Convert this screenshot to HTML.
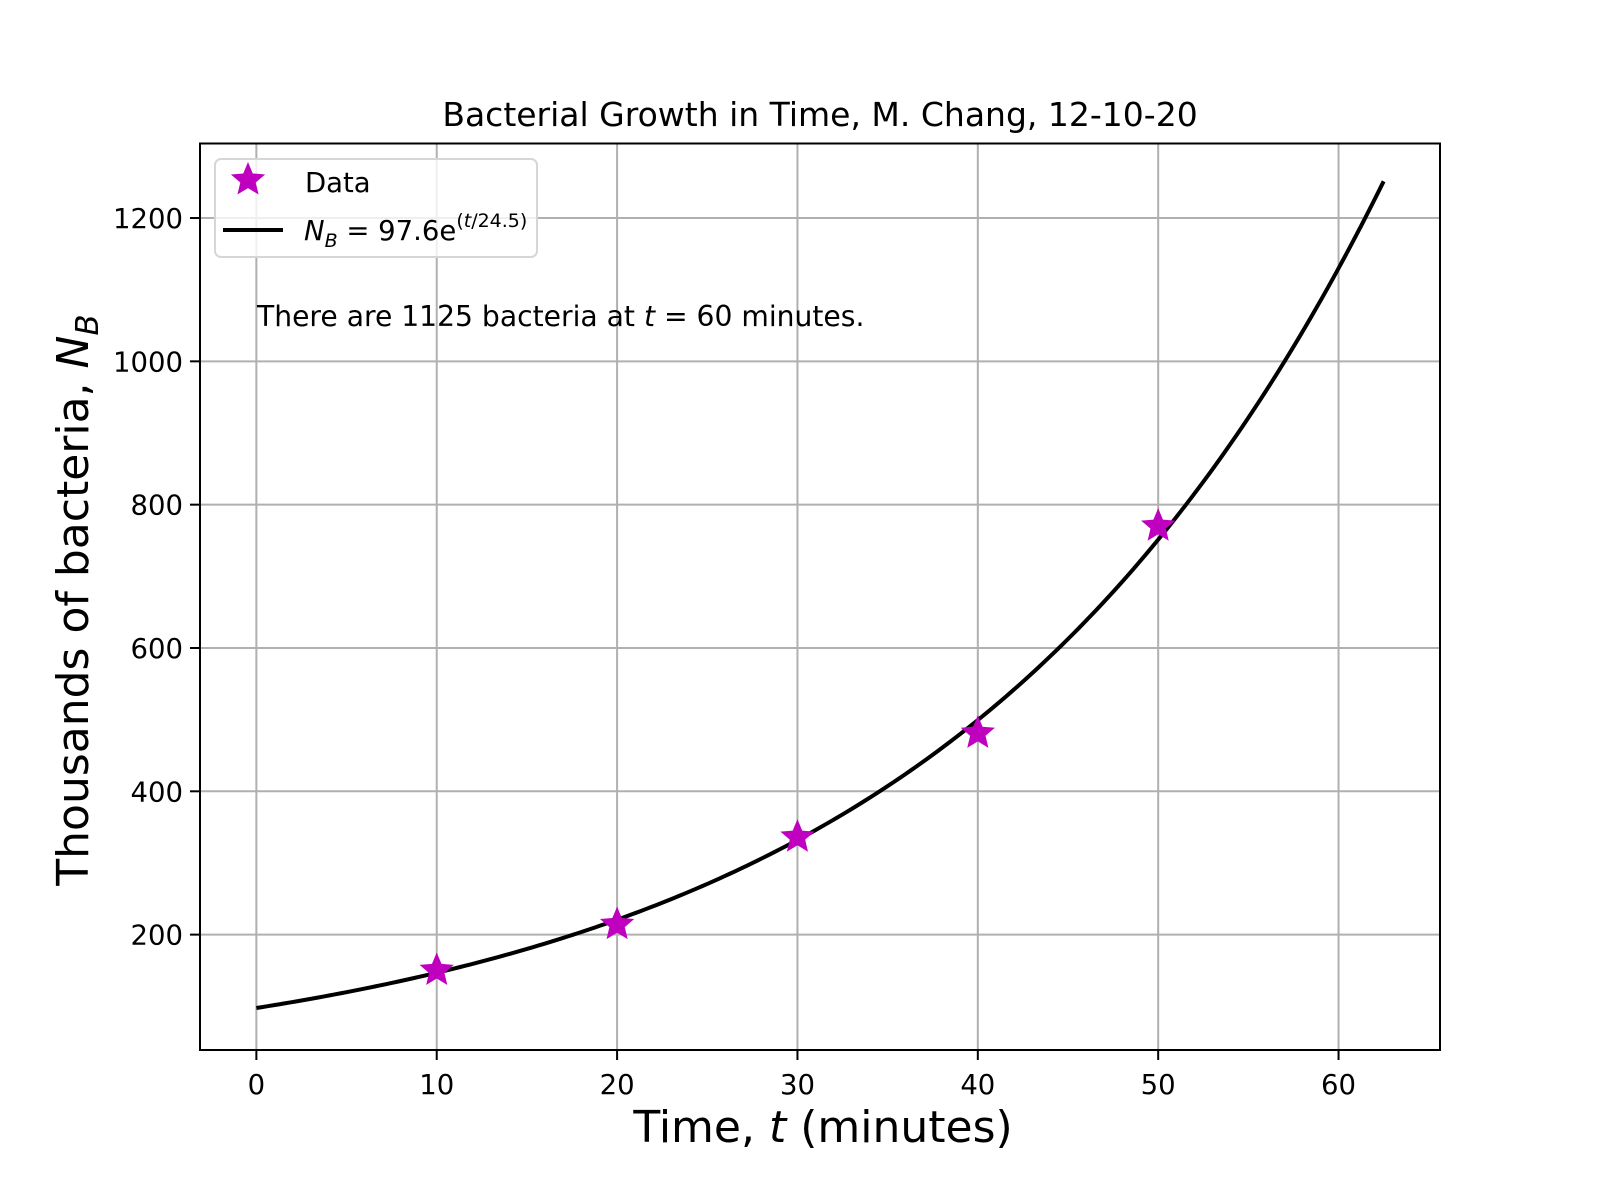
<!DOCTYPE html>
<html><head><meta charset="utf-8"><style>
html,body{margin:0;padding:0;background:#fff}
svg{display:block;font-family:"DejaVu Sans","Liberation Sans",sans-serif}
</style></head><body>
<svg id="chart" width="1600" height="1200" viewBox="0 0 1600 1200" xmlns="http://www.w3.org/2000/svg">
<rect width="1600" height="1200" fill="#fff"/>
<g id="grid"></g>
<g id="curve"></g>
<g id="points"></g>
<rect x="200" y="143.5" width="1240" height="906.5" fill="none" stroke="#000" stroke-width="2"/>
<g id="ticks"></g>
<text x="820" y="126" font-size="33" text-anchor="middle">Bacterial Growth in Time, M. Chang, 12-10-20</text>
<text x="823" y="1142" font-size="44" text-anchor="middle">Time, <tspan font-style="italic">t</tspan> (minutes)</text>
<text transform="translate(88,600) rotate(-90)" font-size="44" text-anchor="middle">Thousands of bacteria, <tspan font-style="italic">N</tspan><tspan font-style="italic" font-size="31" dy="10">B</tspan></text>
<text x="257" y="326" font-size="28.2">There are 1125 bacteria at <tspan font-style="italic">t</tspan> = 60 minutes.</text>
<g>
<rect x="215" y="159" width="322" height="98" rx="6" fill="#fff" fill-opacity="0.8" stroke="#d6d6d6" stroke-width="2"/>
<g id="legstar"></g>
<text x="305" y="192" font-size="27.5">Data</text>
<line x1="223" y1="230" x2="283" y2="230" stroke="#000" stroke-width="4"/>
<text x="304" y="240" font-size="27.5"><tspan font-style="italic">N</tspan><tspan font-style="italic" font-size="19" dy="7">B</tspan><tspan dy="-7"> = 97.6e</tspan><tspan font-size="19" dy="-13">(<tspan font-style="italic">t</tspan>/24.5)</tspan></text>
</g>
</svg>
<script>
const xTicks=[0,10,20,30,40,50,60];
const yTicks=[200,400,600,800,1000,1200];
const dataT=[10,20,30,40,50];
const dataN=[150,214,336,481,770];
const fitA=[97.6];
const fitTau=[24.5];
const fitTmax=[62.5];
const X0=200,X1=1440,Y0=1050,Y1=143.5;
const xMin=-3.125,xMax=65.625,yMin=39,yMax=1304;
function sx(v){return X0+(v-xMin)/(xMax-xMin)*(X1-X0);}
function sy(v){return Y0-(v-yMin)/(yMax-yMin)*(Y0-Y1);}
const NS="http://www.w3.org/2000/svg";
function mk(tag,attrs,parent){const e=document.createElementNS(NS,tag);for(const k in attrs)e.setAttribute(k,attrs[k]);parent.appendChild(e);return e;}
const grid=document.getElementById('grid'),ticks=document.getElementById('ticks');
xTicks.forEach(v=>{
 const x=sx(v);
 const g=mk('line',{x1:x,x2:x,y1:Y1,y2:Y0,stroke:'#b0b0b0','stroke-width':2},grid);
 
 
 const t=mk('line',{x1:x,x2:x,y1:Y0,y2:Y0+10,stroke:'#000','stroke-width':2},ticks);
 
 
 const l=mk('text',{x:x,y:Y0+44,'font-size':27.5,'text-anchor':'middle'},ticks);
 l.textContent=v;
 
 
});
yTicks.forEach(v=>{
 const y=sy(v);
 const g=mk('line',{x1:X0,x2:X1,y1:y,y2:y,stroke:'#b0b0b0','stroke-width':2},grid);
 
 
 const t=mk('line',{x1:X0-10,x2:X0,y1:y,y2:y,stroke:'#000','stroke-width':2},ticks);
 
 
 const l=mk('text',{x:X0-17,y:y+10,'font-size':27.5,'text-anchor':'end'},ticks);
 l.textContent=v;
 
 
});
let d='';
for(let i=0;i<=200;i++){const t=fitTmax[0]*i/200;const n=fitA[0]*Math.exp(t/fitTau[0]);d+=(i?'L':'M')+sx(t).toFixed(2)+','+sy(n).toFixed(2);}
const c=mk('path',{d:d,fill:'none',stroke:'#000','stroke-width':4},document.getElementById('curve'));


function star(cx,cy,R){const r=R*0.45;let p=[];for(let i=0;i<10;i++){const a=-Math.PI/2+i*Math.PI/5;const rr=i%2?r:R;p.push((cx+rr*Math.cos(a)).toFixed(2)+','+(cy+rr*Math.sin(a)).toFixed(2));}return p.join(' ');}
const pts=document.getElementById('points');
dataT.forEach((t,i)=>{
 const s=mk('polygon',{points:star(sx(t),sy(dataN[i]),18),fill:'#bf00bf'},pts);
 
 
});
const ls=mk('polygon',{points:star(248,180,18),fill:'#bf00bf'},document.getElementById('legstar'));


</script>
</body></html>
